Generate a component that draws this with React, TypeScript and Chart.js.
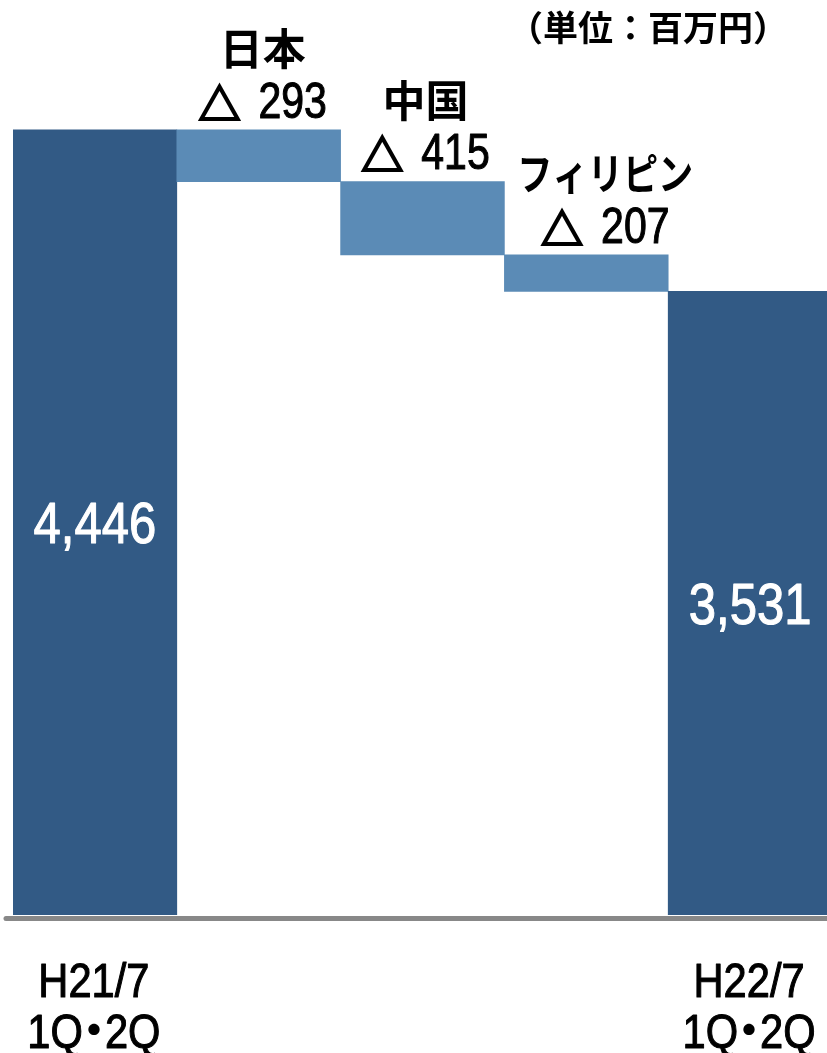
import React, { useEffect, useRef } from "react";
import { Chart, registerables } from "chart.js";

Chart.register(...registerables);

// ---- data ----
const categories = ["H21/7\n1Q・2Q", "日本", "中国", "フィリピン", "H22/7\n1Q・2Q"];
const startTotal = 4446;
const regionNames = ["日本", "中国", "フィリピン"];
const regionDecreases = [293, 415, 207];
const endTotal = 3531;
const unitLabel = "（単位：百万円）";

const DARK = "#325A85";
const LIGHT = "#5B8BB6";

function buildFloating(): [number, number][] {
  const out: [number, number][] = [[0, startTotal]];
  let level = startTotal;
  for (const d of regionDecreases) {
    out.push([level - d, level]);
    level -= d;
  }
  out.push([0, endTotal]);
  return out;
}

const LATIN = '"Liberation Sans", Arial, sans-serif';
const CJK = '"Noto Sans CJK JP", "Noto Sans", sans-serif';
const SX = 0.82;

function drawNarrow(ctx: CanvasRenderingContext2D, text: string, x: number, y: number, size: number, sx: number, color: string, align: CanvasTextAlign = "center") {
  ctx.save();
  ctx.translate(x, y);
  ctx.scale(sx, 1);
  ctx.font = `${size}px ${LATIN}`;
  ctx.fillStyle = color;
  ctx.strokeStyle = color;
  ctx.lineWidth = 1.1;
  ctx.lineJoin = "round";
  ctx.textAlign = align;
  ctx.textBaseline = "alphabetic";
  ctx.fillText(text, 0, 0);
  ctx.strokeText(text, 0, 0);
  ctx.restore();
}

function narrowWidth(ctx: CanvasRenderingContext2D, text: string, size: number, sx: number) {
  ctx.save();
  ctx.font = `${size}px ${LATIN}`;
  const w = ctx.measureText(text).width * sx;
  ctx.restore();
  return w;
}

function drawCategoryLine(ctx: CanvasRenderingContext2D, line: string, cx: number, y: number) {
  const size = 49;
  const sx = 0.85;
  const parts = line.split("・");
  if (parts.length === 1) {
    drawNarrow(ctx, line, cx, y, size, sx, "#000");
    return;
  }
  const w1 = narrowWidth(ctx, parts[0], size, sx);
  const w2 = narrowWidth(ctx, parts[1], size, sx);
  const dotGap = 22;
  const total = w1 + dotGap + w2;
  const x0 = cx - total / 2;
  drawNarrow(ctx, parts[0], x0, y, size, sx, "#000", "left");
  ctx.save();
  ctx.font = `bold 44px ${CJK}`;
  ctx.fillStyle = "#000";
  ctx.textAlign = "center";
  ctx.textBaseline = "alphabetic";
  ctx.fillText("・", x0 + w1 + dotGap / 2, y - 2);
  ctx.restore();
  drawNarrow(ctx, parts[1], x0 + w1 + dotGap, y, size, sx, "#000", "left");
}

const labelPlugin = {
  id: "waterfallLabels",
  afterDatasetsDraw(chart: any) {
    const ctx: CanvasRenderingContext2D = chart.ctx;
    const area = chart.chartArea;
    const meta = chart.getDatasetMeta(0);
    const n = categories.length;

    // baseline axis line
    ctx.save();
    ctx.strokeStyle = "#888888";
    ctx.lineWidth = 5;
    ctx.lineCap = "round";
    ctx.beginPath();
    ctx.moveTo(6, area.bottom + 3.5);
    ctx.lineTo(chart.width + 10, area.bottom + 3.5);
    ctx.stroke();
    ctx.restore();

    const offsets = [0, 4, 3, 19, 0];

    meta.data.forEach((el: any, i: number) => {
      const raw = chart.data.datasets[0].data[i] as [number, number];
      const top = Math.min(el.y, el.base);
      const bottom = Math.max(el.y, el.base);
      const cx = el.x + offsets[i];
      if (i === 0 || i === n - 1) {
        const v = raw[1] - raw[0];
        const mid = (top + bottom) / 2;
        drawNarrow(ctx, v.toLocaleString("en-US"), el.x, mid + 0.358 * 57, 57, 0.86, "#ffffff");
        // category labels under axis
        const lines = String(chart.data.labels[i]).split("\n");
        lines.forEach((ln: string, k: number) => {
          drawCategoryLine(ctx, ln, el.x - 1, 997 + k * 51);
        });
      } else {
        const name = regionNames[i - 1];
        const dec = regionDecreases[i - 1];
        // name
        ctx.save();
        ctx.font = `bold 43px ${CJK}`;
        const nw = ctx.measureText(name).width;
        const nsx = Math.min(1, 176 / nw);
        ctx.translate(cx, top - 81 + 0.38 * 43);
        ctx.scale(nsx, 1);
        ctx.fillStyle = "#000";
        ctx.textAlign = "center";
        ctx.textBaseline = "alphabetic";
        ctx.fillText(name, 0, 0);
        ctx.restore();
        // delta
        const base = top - 30 + 0.358 * 50;
        ctx.save();
        ctx.font = `bold 42px ${CJK}`;
        const triW = ctx.measureText("△").width;
        const digW = narrowWidth(ctx, String(dec), 50, SX);
        const gap = 18;
        const total = triW + gap + digW;
        const x0 = cx - total / 2;
        ctx.fillStyle = "#000";
        ctx.strokeStyle = "#000";
        ctx.lineWidth = 2.2;
        ctx.lineJoin = "miter";
        ctx.textAlign = "left";
        ctx.textBaseline = "alphabetic";
        ctx.fillText("△", x0, base + 2);
        ctx.strokeText("△", x0, base + 2);
        ctx.restore();
        drawNarrow(ctx, String(dec), x0 + triW + gap, base, 50, SX, "#000000", "left");
      }
    });

    // unit label
    ctx.save();
    ctx.font = `bold 35px ${CJK}`;
    ctx.fillStyle = "#000";
    ctx.textAlign = "center";
    ctx.textBaseline = "alphabetic";
    ctx.fillText(unitLabel, 648, 28 + 0.38 * 35);
    ctx.restore();
  },
};

export default function App() {
  const ref = useRef<HTMLCanvasElement | null>(null);
  useEffect(() => {
    if (!ref.current) return;
    const data = buildFloating();
    const colors = data.map((_, i) => (i === 0 || i === data.length - 1 ? DARK : LIGHT));
    const chart = new Chart(ref.current, {
      type: "bar",
      data: {
        labels: categories,
        datasets: [
          {
            data: data as any,
            backgroundColor: colors,
            borderWidth: 0,
            barPercentage: 1,
            categoryPercentage: 1,
          },
        ],
      },
      options: {
        responsive: false,
        animation: false,
        devicePixelRatio: 1,
        layout: { padding: { left: 13, right: 8, top: 32, bottom: 138 } },
        plugins: { legend: { display: false }, tooltip: { enabled: false }, title: { display: false } },
        scales: {
          x: { display: false },
          y: { display: false, min: 0, max: 5000 },
        },
      },
      plugins: [labelPlugin],
    });
    return () => chart.destroy();
  }, []);
  return (
    <div style={{ position: "fixed", left: 0, top: 0, width: 827, height: 1053, overflow: "hidden", background: "#fff" }}>
      <canvas ref={ref} width={840} height={1053} style={{ display: "block" }} />
    </div>
  );
}
